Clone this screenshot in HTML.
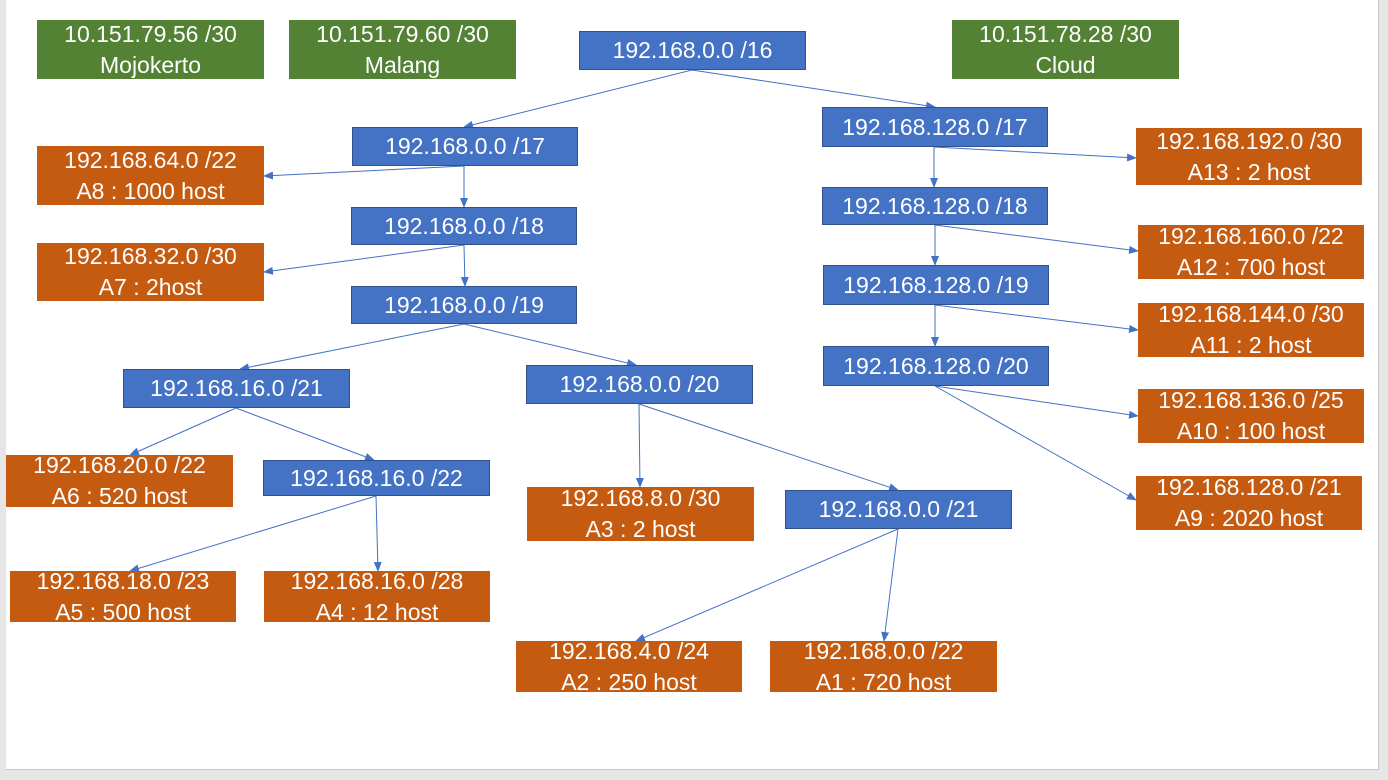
<!DOCTYPE html>
<html><head><meta charset="utf-8"><style>
html,body{margin:0;padding:0}
body{width:1388px;height:780px;background:#e6e6e6;position:relative;overflow:hidden;font-family:"Liberation Sans",sans-serif}
#page{position:absolute;left:6px;top:0;width:1372px;height:769px;background:#fff;border-right:1px solid #c8c8c8;border-bottom:1px solid #c8c8c8}
.b{position:absolute;box-sizing:border-box;color:#fff;font-size:23px;display:flex;flex-direction:column;justify-content:center;align-items:center;text-align:center;line-height:31px;white-space:nowrap}
.b span{display:block;text-align:center}
.g{background:#548235}
.o{background:#c55a11}
.u{background:#4472c4;border:1px solid #2f528f}
svg{position:absolute;left:0;top:0}
</style></head><body>
<div id="page"></div>
<svg width="1388" height="780">
<defs><marker id="a" markerWidth="10" markerHeight="8" refX="9" refY="4" orient="auto" markerUnits="userSpaceOnUse"><path d="M0,0 L10,4 L0,8 z" fill="#4472c4"/></marker></defs>
<g stroke="#4472c4" stroke-width="1" fill="none" marker-end="url(#a)">
<line x1="692" y1="70" x2="935" y2="107"/>
<line x1="692" y1="70" x2="464" y2="127"/>
<line x1="464" y1="166" x2="264" y2="176"/>
<line x1="464" y1="166" x2="464" y2="207"/>
<line x1="464" y1="245" x2="264" y2="272"/>
<line x1="464" y1="245" x2="465" y2="286"/>
<line x1="464" y1="324" x2="240" y2="369"/>
<line x1="464" y1="324" x2="636" y2="365"/>
<line x1="236" y1="408" x2="130" y2="455"/>
<line x1="236" y1="408" x2="374" y2="460"/>
<line x1="376" y1="496" x2="130" y2="571"/>
<line x1="376" y1="496" x2="378" y2="571"/>
<line x1="639" y1="404" x2="640" y2="487"/>
<line x1="639" y1="404" x2="898" y2="490"/>
<line x1="898" y1="529" x2="636" y2="641"/>
<line x1="898" y1="529" x2="884" y2="641"/>
<line x1="934" y1="147" x2="934" y2="187"/>
<line x1="934" y1="147" x2="1136" y2="158"/>
<line x1="935" y1="225" x2="935" y2="265"/>
<line x1="935" y1="225" x2="1138" y2="251"/>
<line x1="935" y1="305" x2="935" y2="346"/>
<line x1="935" y1="305" x2="1138" y2="330"/>
<line x1="935" y1="386" x2="1138" y2="416"/>
<line x1="935" y1="386" x2="1136" y2="500"/>
</g></svg>
<div class="b g" style="left:37px;top:20px;width:227px;height:59px"><span>10.151.79.56 /30</span><span>Mojokerto</span></div>
<div class="b g" style="left:289px;top:20px;width:227px;height:59px"><span>10.151.79.60 /30</span><span>Malang</span></div>
<div class="b g" style="left:952px;top:20px;width:227px;height:59px"><span>10.151.78.28 /30</span><span>Cloud</span></div>
<div class="b u" style="left:579px;top:31px;width:227px;height:39px">192.168.0.0 /16</div>
<div class="b u" style="left:352px;top:127px;width:226px;height:39px">192.168.0.0 /17</div>
<div class="b o" style="left:37px;top:146px;width:227px;height:59px"><span>192.168.64.0 /22</span><span>A8 : 1000 host</span></div>
<div class="b u" style="left:351px;top:207px;width:226px;height:38px">192.168.0.0 /18</div>
<div class="b o" style="left:37px;top:243px;width:227px;height:58px"><span>192.168.32.0 /30</span><span>A7 : 2host</span></div>
<div class="b u" style="left:351px;top:286px;width:226px;height:38px">192.168.0.0 /19</div>
<div class="b u" style="left:123px;top:369px;width:227px;height:39px">192.168.16.0 /21</div>
<div class="b u" style="left:526px;top:365px;width:227px;height:39px">192.168.0.0 /20</div>
<div class="b o" style="left:6px;top:455px;width:227px;height:52px"><span>192.168.20.0 /22</span><span>A6 : 520 host</span></div>
<div class="b u" style="left:263px;top:460px;width:227px;height:36px">192.168.16.0 /22</div>
<div class="b o" style="left:527px;top:487px;width:227px;height:54px"><span>192.168.8.0 /30</span><span>A3 : 2 host</span></div>
<div class="b u" style="left:785px;top:490px;width:227px;height:39px">192.168.0.0 /21</div>
<div class="b o" style="left:10px;top:571px;width:226px;height:51px"><span>192.168.18.0 /23</span><span>A5 : 500 host</span></div>
<div class="b o" style="left:264px;top:571px;width:226px;height:51px"><span>192.168.16.0 /28</span><span>A4 : 12 host</span></div>
<div class="b o" style="left:516px;top:641px;width:226px;height:51px"><span>192.168.4.0 /24</span><span>A2 : 250 host</span></div>
<div class="b o" style="left:770px;top:641px;width:227px;height:51px"><span>192.168.0.0 /22</span><span>A1 : 720 host</span></div>
<div class="b u" style="left:822px;top:107px;width:226px;height:40px">192.168.128.0 /17</div>
<div class="b o" style="left:1136px;top:128px;width:226px;height:57px"><span>192.168.192.0 /30</span><span>A13 : 2 host</span></div>
<div class="b u" style="left:822px;top:187px;width:226px;height:38px">192.168.128.0 /18</div>
<div class="b o" style="left:1138px;top:225px;width:226px;height:54px"><span>192.168.160.0 /22</span><span>A12 : 700 host</span></div>
<div class="b u" style="left:823px;top:265px;width:226px;height:40px">192.168.128.0 /19</div>
<div class="b o" style="left:1138px;top:303px;width:226px;height:54px"><span>192.168.144.0 /30</span><span>A11 : 2 host</span></div>
<div class="b u" style="left:823px;top:346px;width:226px;height:40px">192.168.128.0 /20</div>
<div class="b o" style="left:1138px;top:389px;width:226px;height:54px"><span>192.168.136.0 /25</span><span>A10 : 100 host</span></div>
<div class="b o" style="left:1136px;top:476px;width:226px;height:54px"><span>192.168.128.0 /21</span><span>A9 : 2020 host</span></div>
</body></html>
